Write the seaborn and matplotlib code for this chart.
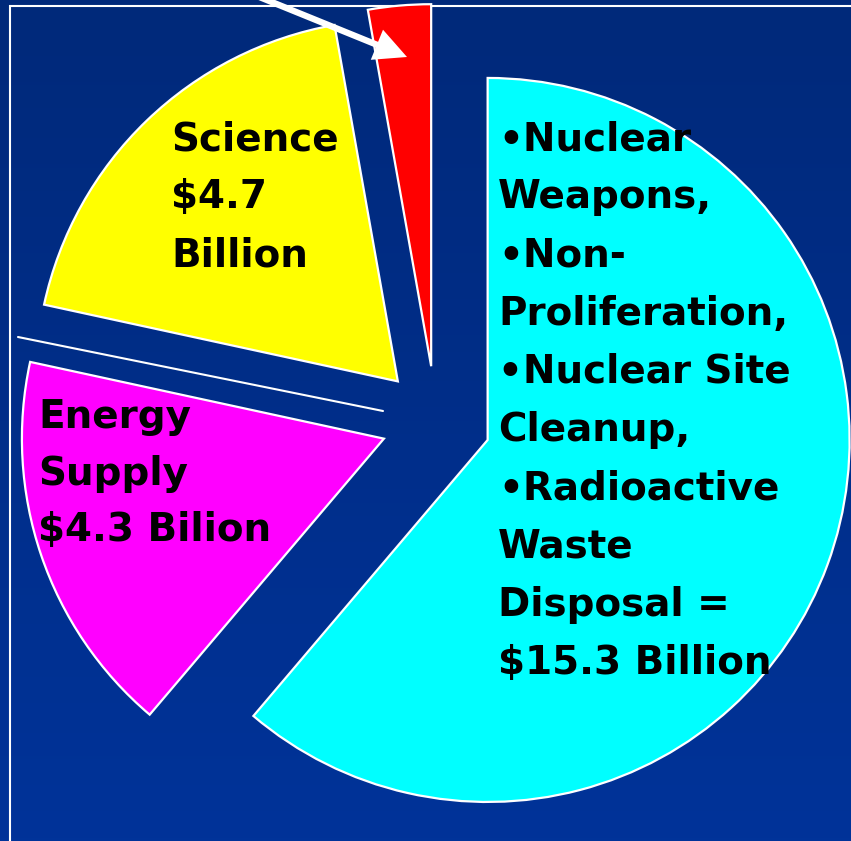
import numpy as np
import matplotlib
matplotlib.use("Agg")
import matplotlib.pyplot as plt
from matplotlib.colors import LinearSegmentedColormap
from matplotlib.patches import Rectangle
import seaborn as sns

# budget split, $ billions (clockwise from 12 o'clock)
segments = ["Defense & Cleanup", "Energy Supply", "Science", "Other"]
billions = [15.3, 4.3, 4.7, 0.7]
seg_colors = ["#00ffff", "#ff00ff", "#ffff00", "#ff0000"]

science_lines = ["Science", "$4.7", "Billion"]
energy_lines = ["Energy", "Supply", "$4.3 Bilion"]
defense_lines = ["\u2022Nuclear", "Weapons,", "\u2022Non-", "Proliferation,",
                 "\u2022Nuclear Site", "Cleanup,", "\u2022Radioactive", "Waste",
                 "Disposal =", "$15.3 Billion"]

sns.set_theme(style="white")
plt.rcParams['font.family'] = ['DejaVu Sans']

W, H = 851, 841
fig = plt.figure(figsize=(W / 100, H / 100), dpi=100)
ax = fig.add_axes([0, 0, 1, 1])

# dark blue gradient background
cmap = LinearSegmentedColormap.from_list('bg', ['#003399', '#00297a'])
grad = np.linspace(0, 1, 256).reshape(-1, 1)
ax.imshow(grad, extent=[0, W, 0, H], cmap=cmap, aspect='auto', origin='lower', zorder=0)

# slide frame
ax.add_patch(Rectangle((10, -20), 900, H - 6 + 20, fill=False, edgecolor='white', lw=1.5, zorder=1))

wedges, _ = ax.pie(billions, colors=seg_colors, explode=[55] * len(billions),
                   startangle=90, counterclock=False, radius=362, center=(436, 420),
                   wedgeprops=dict(edgecolor='white', linewidth=1.6, zorder=2))

# stray divider line between science and energy
ax.plot([18, 383], [H - 337, H - 411], color='white', lw=1.5, zorder=3)

# arrow pointing at the small red slice
ax.annotate('', xy=(407, H - 57), xytext=(252, H + 6), annotation_clip=False,
            arrowprops=dict(arrowstyle='simple,head_length=1.8,head_width=1.8,tail_width=0.35',
                            mutation_scale=13, facecolor='white', edgecolor='none', lw=0,
                            shrinkA=0, shrinkB=0), zorder=4)


def put_lines(lines, x, y0, pitch=57.5):
    for i, s in enumerate(lines):
        ax.text(x, H - (y0 + i * pitch), s, fontsize=28, fontweight='bold',
                color='black', ha='left', va='baseline', parse_math=False, zorder=5)


put_lines(science_lines, 171, 150, pitch=58)
put_lines(energy_lines, 38, 428, pitch=56.5)
put_lines(defense_lines, 498, 150, pitch=58.2)

ax.set_xlim(0, W)
ax.set_ylim(0, H)
ax.set_aspect('auto')
ax.axis('off')

fig.savefig('out.png', dpi=100)
